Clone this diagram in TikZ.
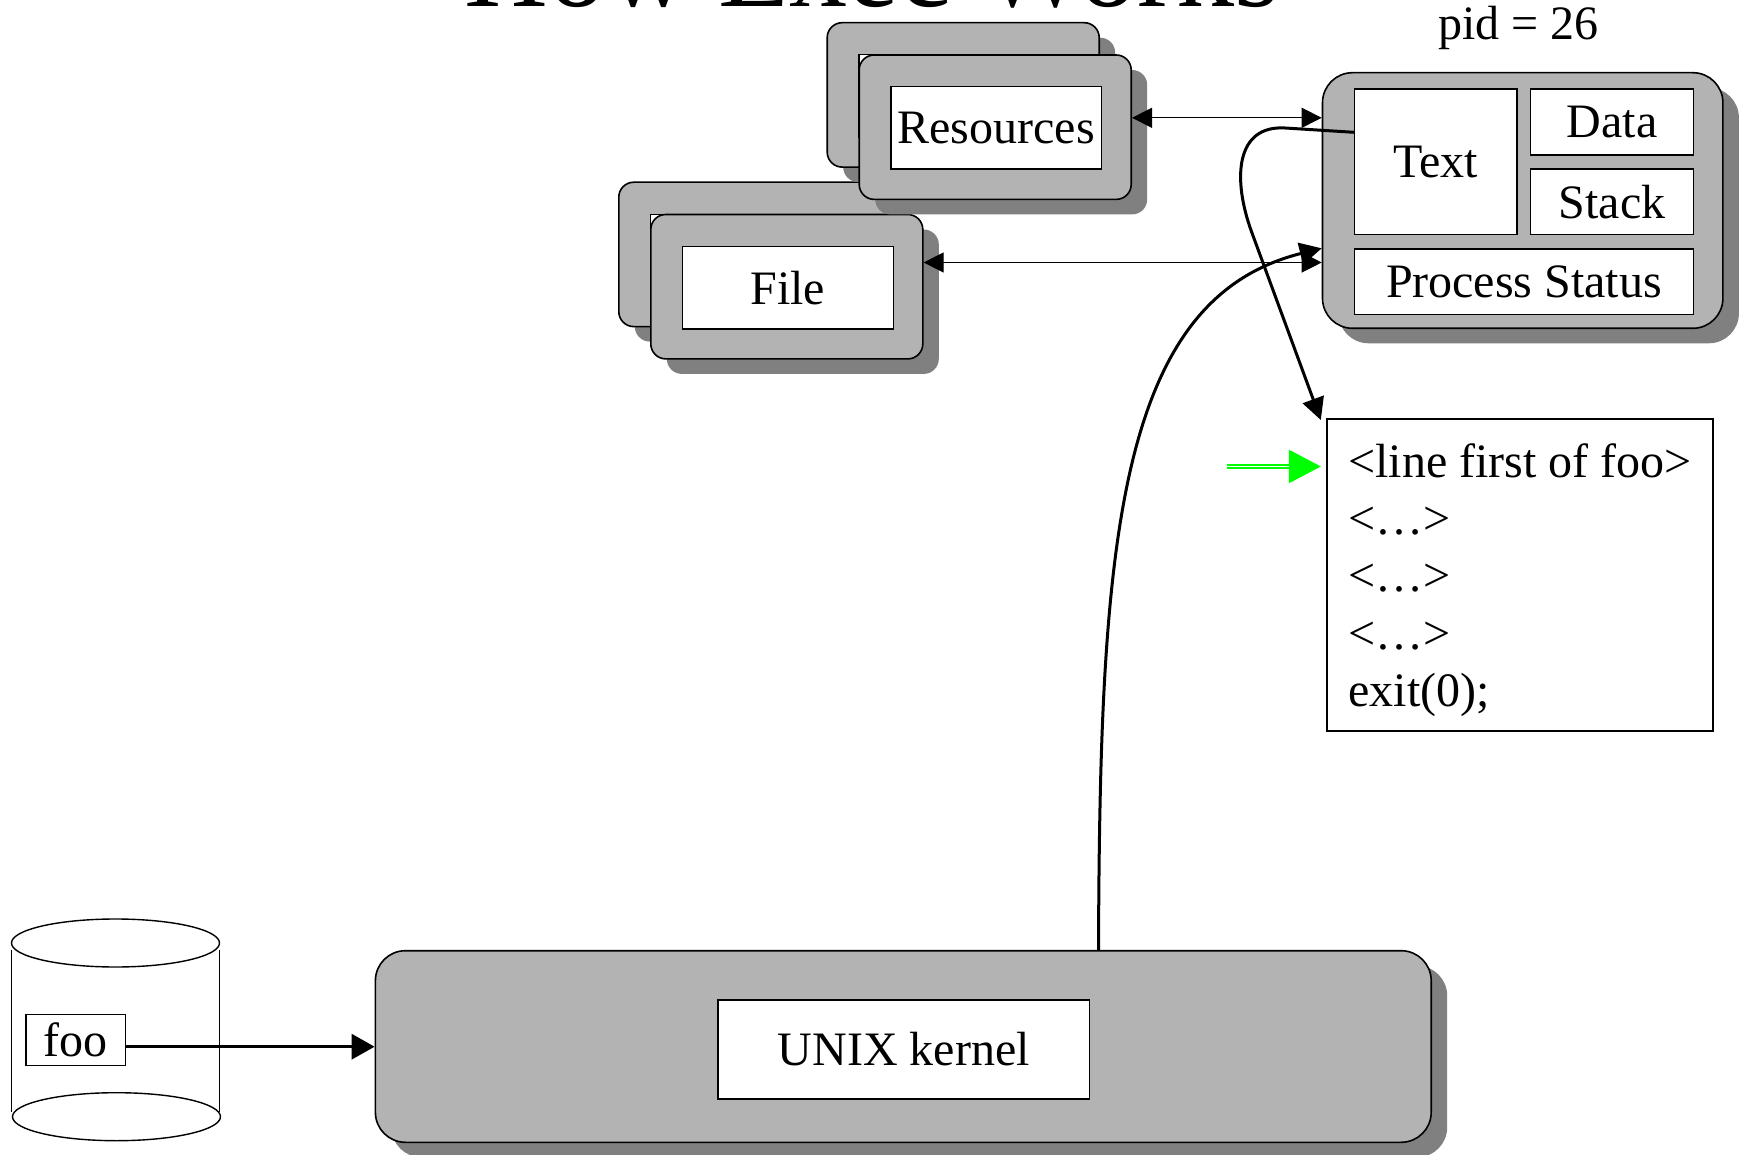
\documentclass[tikz,border=0pt]{standalone}
\usepackage{fontspec}
\setmainfont{Liberation Serif}
\usetikzlibrary{arrows.meta,shadows}
\definecolor{boxgray}{RGB}{179,179,179}
\definecolor{shadowgray}{RGB}{128,128,128}
\definecolor{ptrgreen}{RGB}{0,255,0}
\begin{document}
\begin{tikzpicture}[x=0.5pt,y=-0.5pt,
  every node/.style={font=\fontsize{24}{28}\selectfont},
  gbox/.style={draw, line width=0.8pt, fill=boxgray, rounded corners=7.5pt, inner sep=0pt,
    drop shadow={shadow xshift=8pt, shadow yshift=-7.5pt, fill=shadowgray, opacity=1}},
  wbox/.style={draw, line width=0.8pt, fill=white, inner sep=0pt},
  thinarrow/.style={line width=0.6pt, {Triangle[length=10pt,width=10pt]}-{Triangle[length=10pt,width=10pt]}},
  curvearrow/.style={line width=1.5pt, -{Triangle[length=11pt,width=11pt]}},
]
\useasboundingbox (0,0) rectangle (1741,1155);

% title (cut off at top)
\node[anchor=base, font=\fontsize{58}{60}\selectfont, inner sep=0pt] (title) at (872,7) {How Exec Works};

% File boxes
\node[gbox, minimum width=136pt, minimum height=72.2pt] (fileB) at (754.8,254.4) {};
\node[wbox, minimum width=105.6pt, minimum height=41.2pt] (fileBi) at (755.9,255.6) {};
\node[gbox, minimum width=136pt, minimum height=72.2pt] (fileF) at (786.8,286.7) {};
\node[wbox, minimum width=105.6pt, minimum height=41.2pt] (fileFi) at (787.9,287.9) {File};

% Resources boxes
\node[gbox, minimum width=136pt, minimum height=72.2pt] (resB) at (963.2,94.9) {};
\node[wbox, minimum width=105.2pt, minimum height=41.3pt] (resBi) at (964.1,95.7) {};
\node[gbox, minimum width=136pt, minimum height=72.2pt] (resF) at (995.2,127.2) {};
\node[wbox, minimum width=105.2pt, minimum height=41.3pt] (resFi) at (996.1,128) {Resources};

% process
\node[anchor=base, inner sep=0pt] (pid) at (1518.3,39.5) {pid = 26};
\node[gbox, rounded corners=15pt, minimum width=200.2pt, minimum height=127.8pt] (proc) at (1522.7,200.5) {};
\node[wbox, minimum width=81.1pt, minimum height=72.7pt] (tb) at (1435.7,161.7) {Text};
\node[wbox, minimum width=81.4pt, minimum height=33pt] (data) at (1612,122) {Data};
\node[wbox, minimum width=81.4pt, minimum height=32.7pt] (stack) at (1612,201.7) {Stack};
\node[wbox, minimum width=169.4pt, minimum height=32.7pt] (ps) at (1524,281.7) {Process Status};

% code
\node[draw, line width=0.8pt, minimum width=192.8pt, minimum height=156pt, inner sep=0pt] (code) at (1520,575) {};
\node[anchor=base west, inner sep=0pt] (l1) at (1348,477.5) {<line first of foo>};
\node[anchor=base west, inner sep=0pt] (l2) at (1348,534.5) {<…>};
\node[anchor=base west, inner sep=0pt] (l3) at (1348,591.5) {<…>};
\node[anchor=base west, inner sep=0pt] (l4) at (1348,649) {<…>};
\node[anchor=base west, inner sep=0pt] (l5) at (1348,706) {exit(0);};

% kernel
\node[gbox, rounded corners=15pt, minimum width=527.9pt, minimum height=95.8pt] (kernel) at (903.3,1046.5) {};
\node[wbox, minimum width=185.9pt, minimum height=49.5pt] (kin) at (903.7,1049.5) {UNIX kernel};

% disk
\draw[line width=0.7pt] (115.5,943) ellipse [x radius=52pt, y radius=12pt];
\draw[line width=0.7pt] (116.5,1116.7) ellipse [x radius=52pt, y radius=12pt];
\draw[line width=0.7pt] (11.5,950) -- (11.5,1112);
\draw[line width=0.7pt] (219.5,950) -- (219.5,1112);
\node[wbox, line width=0.6pt, minimum width=49.7pt, minimum height=25.4pt] (foo) at (75.7,1039.7) {foo};

% connectors
\coordinate (fooA) at (125.3,1046.7);
\draw[line width=1.7pt, -{Triangle[length=11.5pt,width=12.5pt]}] (fooA) -- (fooA -| kernel.west);

\coordinate (ra) at (1200,117.8);
\draw[thinarrow] (ra -| resF.east) -- (ra -| proc.west);
\coordinate (fa) at (1100,262.5);
\draw[thinarrow] (fa -| fileF.east) -- (fa -| proc.west);

\coordinate (kx) at (1098.5,0);
\coordinate (ky) at (0,248.3);
\draw[curvearrow] (kx |- kernel.north) .. controls (1100,550) and (1115,300) .. (proc.west |- ky);

\coordinate (ty) at (0,132.3);
\coordinate (ctip) at (1320.8,420);
\draw[curvearrow, rounded corners=0pt] (tb.west |- ty) -- (1285,128) .. controls (1236,125) and (1231.7,178) .. (1252,233) -- (ctip);

\coordinate (gstart) at (1226.5,466.5);
\draw[ptrgreen, line width=0.7pt, double=white, double distance=0.9pt, shorten >=2.8pt,
  -{Triangle[length=16pt,width=16.7pt]}] (gstart) -- (gstart -| code.west);
\end{tikzpicture}
\end{document}
